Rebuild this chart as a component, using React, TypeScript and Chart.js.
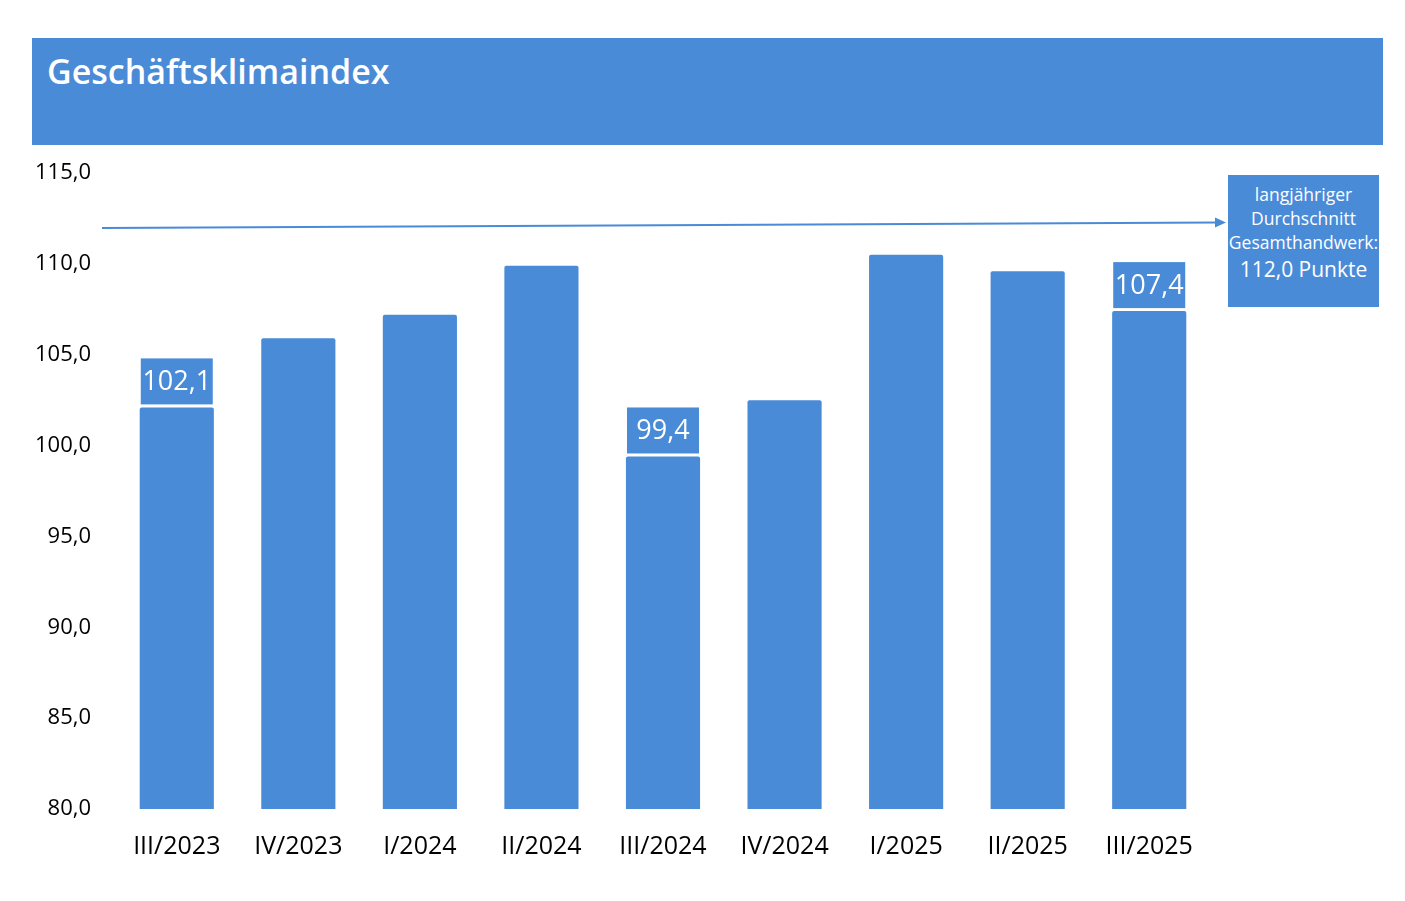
import React, { useEffect, useRef } from "react";
import { Chart, registerables } from "chart.js";

Chart.register(...registerables);

const categories = ["III/2023", "IV/2023", "I/2024", "II/2024", "III/2024", "IV/2024", "I/2025", "II/2025", "III/2025"];
const values = [102.1, 105.9, 107.2, 109.9, 99.4, 102.5, 110.5, 109.6, 107.4];
const labeledIndices = [0, 4, 8];
const averageValue = 112.0;
const yMin = 80;
const yMax = 115;
const yStep = 5;
const title = "Geschäftsklimaindex";
const noteLines = ["langjähriger", "Durchschnitt", "Gesamthandwerk:"];
const noteValueLine = "112,0 Punkte";

const BLUE = "#4a8bd8";
const FONT = "'Open Sans', 'Noto Sans', sans-serif";

const fmt = (v: number) => v.toFixed(1).replace(".", ",");

const overlayPlugin = {
  id: "overlay",
  afterDatasetsDraw(chart: any) {
    const ctx = chart.ctx;
    const meta = chart.getDatasetMeta(0);
    ctx.save();
    labeledIndices.forEach((i) => {
      const bar = meta.data[i];
      if (!bar) return;
      const w = 72;
      const h = 46;
      const bottom = bar.y - 3;
      ctx.fillStyle = BLUE;
      ctx.fillRect(bar.x - w / 2, bottom - h, w, h);
      ctx.fillStyle = "#ffffff";
      ctx.font = `27px ${FONT}`;
      ctx.textAlign = "center";
      ctx.textBaseline = "middle";
      ctx.fillText(fmt(values[i]), bar.x, bottom - h / 2 + 1);
    });
    const yScale = chart.scales.y;
    const yAvg = yScale.getPixelForValue(averageValue);
    const x0 = 102;
    const x1 = 1226;
    const y0 = yAvg + 0.5;
    const y1 = yAvg - 5;
    ctx.strokeStyle = BLUE;
    ctx.lineWidth = 2;
    ctx.beginPath();
    ctx.moveTo(x0, y0);
    ctx.lineTo(x1 - 8, y1);
    ctx.stroke();
    ctx.fillStyle = BLUE;
    ctx.beginPath();
    ctx.moveTo(x1, y1);
    ctx.lineTo(x1 - 11, y1 - 5);
    ctx.lineTo(x1 - 11, y1 + 5);
    ctx.closePath();
    ctx.fill();
    ctx.restore();
  },
};

export default function App() {
  const canvasRef = useRef<HTMLCanvasElement | null>(null);

  useEffect(() => {
    if (!canvasRef.current) return;
    const chart = new Chart(canvasRef.current, {
      type: "bar",
      data: {
        labels: categories,
        datasets: [
          {
            data: values,
            backgroundColor: BLUE,
            borderRadius: { topLeft: 2, topRight: 2, bottomLeft: 0, bottomRight: 0 },
            borderSkipped: "bottom",
            categoryPercentage: 1,
            barPercentage: 0.61,
          },
        ],
      },
      options: {
        animation: false,
        responsive: false,
        maintainAspectRatio: false,
        layout: { padding: { top: 173, left: 0, right: 195, bottom: 0 } },
        plugins: {
          legend: { display: false },
          tooltip: { enabled: false },
          title: { display: false },
        },
        scales: {
          x: {
            grid: { display: false, drawTicks: false },
            border: { display: false },
            ticks: {
              color: "#000000",
              font: { family: FONT, size: 25 },
              padding: 23,
              maxRotation: 0,
              autoSkip: false,
            },
            afterFit: (s: any) => {
              s.height = 92;
            },
          },
          y: {
            min: yMin,
            max: yMax,
            grid: { display: false, drawTicks: false },
            border: { display: false },
            ticks: {
              stepSize: yStep,
              color: "#000000",
              font: { family: FONT, size: 22, weight: "500" },
              padding: 25,
              callback: (v: any) => fmt(Number(v)),
            },
            afterFit: (s: any) => {
              s.width = 116;
            },
          },
        },
      },
      plugins: [overlayPlugin],
    });
    return () => chart.destroy();
  }, []);

  return (
    <div style={{ position: "absolute", left: 0, top: 0, width: 1405, height: 901, background: "#ffffff", fontFamily: FONT }}>
      <div
        style={{
          position: "absolute",
          left: 32,
          top: 38,
          width: 1351,
          height: 107,
          background: BLUE,
        }}
      >
        <div
          style={{
            position: "absolute",
            left: 15,
            top: 9,
            color: "#ffffff",
            fontSize: 34,
            fontWeight: 600,
            lineHeight: "48px",
            whiteSpace: "nowrap",
          }}
        >
          {title}
        </div>
      </div>
      <canvas ref={canvasRef} width={1405} height={901} style={{ position: "absolute", left: 0, top: 0 }} />
      <div
        style={{
          position: "absolute",
          left: 1228,
          top: 175,
          width: 151,
          height: 132,
          background: BLUE,
          color: "#ffffff",
          textAlign: "center",
          whiteSpace: "nowrap",
          overflow: "hidden",
        }}
      >
        <div style={{ paddingTop: 7 }}>
          {noteLines.map((l) => (
            <div key={l} style={{ fontSize: 17.5, lineHeight: "24px", marginLeft: -10, marginRight: -10 }}>
              {l}
            </div>
          ))}
          <div style={{ fontSize: 21, lineHeight: "28px", marginTop: 1 }}>{noteValueLine}</div>
        </div>
      </div>
    </div>
  );
}
